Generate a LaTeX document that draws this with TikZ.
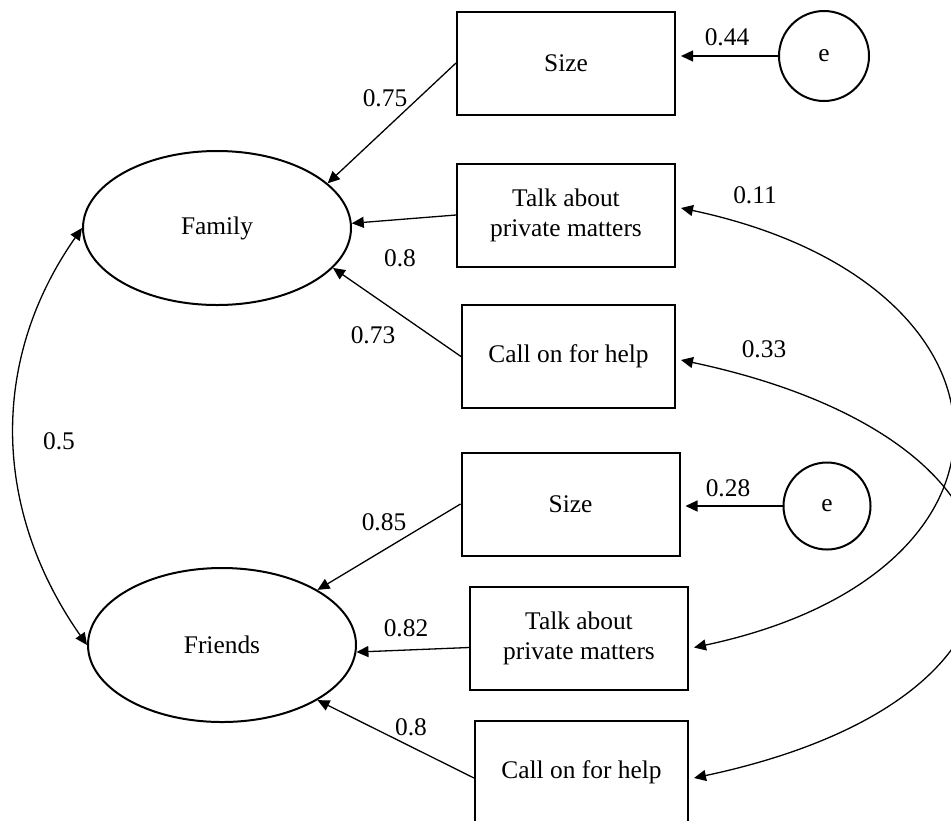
\documentclass[tikz,border=0pt]{standalone}
\usepackage{fontspec}
\setmainfont{Liberation Serif}
\usetikzlibrary{arrows.meta}
\usetikzlibrary{shapes.geometric}
\tikzset{
  every picture/.style={font={\fontsize{12.7}{15}\selectfont}, >={Triangle[length=6pt,width=5.5pt]}}}

\begin{document}
\begin{tikzpicture}[x=0.5pt, y=-0.5pt, line width=0.65pt,
    factor/.style={draw, ellipse, line width=1pt, minimum width=134pt, minimum height=77pt},
    item/.style={draw, rectangle, line width=1pt, align=center, minimum width=109pt, minimum height=51.5pt},
    err/.style={draw, circle, line width=1pt, minimum size=45pt},
    coef/.style={inner sep=0pt}]

    \useasboundingbox (0,0) rectangle (951,820);

    \begin{scope}
      \node[factor] (Fam) at (217,228) {Family};
      \node[factor] (Fri) at (222,645) {Friends};
    \end{scope}

    \begin{scope}
      \node[item] (SA) at (566,63) {Size};
      \node[item] (TA) at (566,215) {Talk about\\private matters};
      \node[item, minimum width=106.5pt] (CA) at (568.5,356.5) {Call on for help};
      \node[item] (SB) at (570.5,504) {Size};
      \node[item] (TB) at (579,638.5) {Talk about\\private matters};
      \node[item, minimum width=106.5pt] (CB) at (581.5,772.5) {Call on for help};
    \end{scope}

    \node[err] (EA) at (824,56) {e};
    \node[err, minimum size=43.5pt] (EB) at (827,506) {e};

    \node[coef] (KA) at (385,98) {0.75};
    \node[coef] (KB) at (727,37) {0.44};
    \node[coef] (KC) at (400,258) {0.8};
    \node[coef] (KD) at (755,195) {0.11};
    \node[coef] (KE) at (373,335) {0.73};
    \node[coef] (KF) at (764,349) {0.33};
    \node[coef] (KG) at (59,441) {0.5};
    \node[coef] (KH) at (728,488) {0.28};
    \node[coef] (KI) at (384,522) {0.85};
    \node[coef] (KJ) at (406,628) {0.82};
    \node[coef] (KK) at (411,727) {0.8};

    \draw[->] (SA.west) -- (Fam.22);
    \draw[->] (TA.west) -- (Fam.2);
    \draw[->] (CA.west) -- (Fam.-19);

    \draw[->] (SB.west) -- (Fri.30);
    \draw[->] ([yshift=-4.5pt]TB.west) -- (Fri.-3);
    \draw[->] ([yshift=-2.75pt]CB.west) -- (Fri.-30);

    \draw[->, shorten >=2.5pt] (EA) -- (EA -| SA.east);
    \draw[->, shorten >=2.5pt] (EB) -- (EB -| SB.east);

    \draw[<->] (Fam.west) to[out=235, in=125] (Fri.west);
    \draw[<->] ([xshift=2.5pt,yshift=3.5pt]TA.east) to[out=-12, in=12, looseness=2.09] ([xshift=2.5pt,yshift=-4.5pt]TB.east);
    \draw[<->] ([xshift=2.5pt,yshift=-1.75pt]CA.east) to[out=-12, in=12, looseness=2.4] ([xshift=2.5pt,yshift=-2.75pt]CB.east);
  \end{tikzpicture}
\end{document}
